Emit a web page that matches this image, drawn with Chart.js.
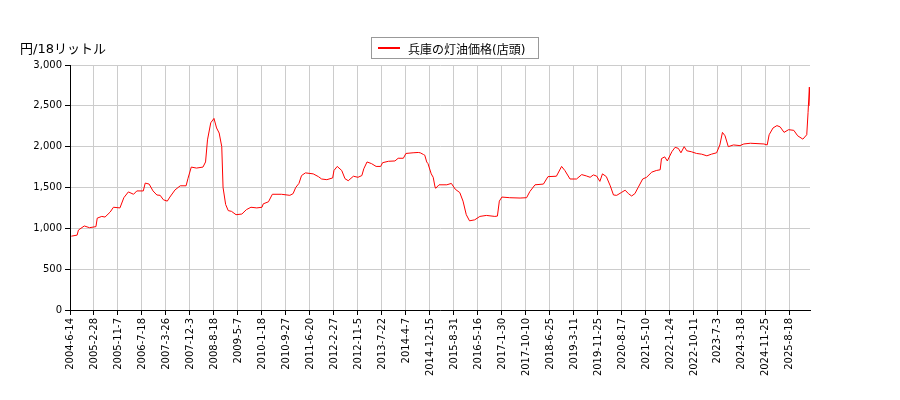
<!DOCTYPE html>
<html>
<head>
<meta charset="utf-8">
<script src="https://cdn.jsdelivr.net/npm/chart.js@4/dist/chart.umd.min.js"></script>
<style>
  body { margin: 0; background: #fff; font-family: "DejaVu Sans", "Noto Sans CJK JP", sans-serif; }
  #wrap { position: relative; width: 900px; height: 400px; }
  #unit { position: absolute; left: 20px; top: 38px; font-size: 13px; color: #000; }
  #legend { position: absolute; left: 371px; top: 37px; width: 168px; height: 22px; border: 1px solid #999;
            font-size: 12px; display: flex; align-items: center; box-sizing: border-box; padding-left: 6px; }
  #legend span.l { display: inline-block; width: 22px; height: 2px; background: #f00; margin-right: 8px; }
</style>
</head>
<body>
<div id="wrap">
  <canvas id="c" width="900" height="400"></canvas>
  <div id="unit">円/18リットル</div>
  <div id="legend"><span class="l"></span>兵庫の灯油価格(店頭)</div>
</div>
<script>
// weeks since 2004-6-14
const weeks = [2,11,13,22,30,40,42,49,54,62,67,77,83,90,98,103,113,116,122,128,134,139,144,150,154,162,170,179,182,187,195,205,209,212,217,222,226,230,234,236,240,244,249,256,265,272,279,288,296,298,306,312,326,339,344,348,353,357,363,375,383,388,396,405,407,412,419,424,429,437,444,450,453,458,465,472,479,482,491,501,506,514,518,529,537,540,545,547,550,552,557,560,563,564,569,581,588,594,601,606,611,616,624,632,642,655,659,662,666,678,694,704,709,717,730,737,750,758,763,771,781,789,796,802,807,812,817,821,827,833,838,843,850,856,861,866,871,876,883,889,897,904,910,912,917,921,928,933,938,942,947,951,958,966,974,982,989,997,1002,1006,1010,1015,1023,1033,1039,1049,1070,1075,1078,1084,1090,1095,1101,1108,1116,1122,1130,1136,1138,1140,1141];
const prices = [904,917,979,1029,1008,1021,1125,1146,1138,1200,1258,1250,1375,1446,1417,1458,1458,1554,1542,1458,1408,1404,1350,1333,1383,1471,1521,1521,1613,1750,1738,1750,1813,2083,2292,2346,2229,2167,2000,1500,1292,1217,1208,1167,1175,1229,1258,1250,1258,1300,1325,1417,1417,1404,1425,1500,1550,1646,1679,1667,1633,1604,1596,1617,1708,1758,1708,1608,1583,1638,1625,1646,1729,1813,1792,1758,1758,1804,1821,1825,1858,1858,1917,1925,1929,1925,1904,1896,1813,1792,1667,1625,1500,1492,1533,1533,1550,1479,1438,1333,1167,1092,1104,1146,1158,1146,1150,1333,1383,1375,1371,1375,1450,1533,1542,1633,1638,1758,1708,1604,1604,1658,1642,1625,1654,1640,1575,1667,1633,1521,1408,1404,1438,1467,1425,1396,1425,1500,1604,1625,1688,1708,1717,1854,1875,1825,1938,1992,1979,1925,2000,1950,1938,1917,1908,1888,1908,1925,2021,2175,2133,2000,2021,2013,2033,2042,2033,2021,2146,2229,2258,2242,2175,2208,2200,2133,2092,2146,2417,2729,2500];
const tickLabels = ["2004-6-14","2005-2-28","2005-11-7","2006-7-18","2007-3-26","2007-12-3","2008-8-18","2009-5-7","2010-1-18","2010-9-27","2011-6-20","2012-2-27","2012-11-5","2013-7-22","2014-4-7","2014-12-15","2015-8-31","2016-5-16","2017-1-30","2017-10-10","2018-6-25","2019-3-11","2019-11-25","2020-8-17","2021-5-10","2022-1-24","2022-10-11","2023-7-3","2024-3-18","2024-11-25","2025-8-18"];
const TICK_STEP = 37;

const points = weeks.map((w, i) => ({ x: w, y: prices[i] }));

new Chart(document.getElementById("c"), {
  type: "line",
  data: { datasets: [{ label: "兵庫の灯油価格(店頭)", data: points, borderColor: "#f00", borderWidth: 1, pointRadius: 0, fill: false, tension: 0 }] },
  options: {
    responsive: false, animation: false,
    layout: { padding: { left: 0, right: 90, top: 65, bottom: 0 } },
    plugins: { legend: { display: false }, tooltip: { enabled: false } },
    scales: {
      x: {
        type: "linear", min: 0, max: 1141,
        afterBuildTicks: s => { s.ticks = tickLabels.map((_, i) => ({ value: i * TICK_STEP })); },
        afterFit: s => { s.height = 90; },
        ticks: { maxRotation: 90, minRotation: 90, autoSkip: false, color: "#000", font: { family: "DejaVu Sans", size: 10 },
                 callback: v => tickLabels[Math.round(v / TICK_STEP)] },
        grid: { color: "#ccc", tickColor: "#000", tickLength: 5 },
        border: { color: "#000" }
      },
      y: {
        min: 0, max: 3000,
        afterFit: s => { s.width = 70; },
        ticks: { stepSize: 500, color: "#000", font: { family: "DejaVu Sans", size: 10 } },
        grid: { color: "#ccc", tickColor: "#000", tickLength: 5 },
        border: { color: "#000" }
      }
    }
  }
});
</script>
</body>
</html>
